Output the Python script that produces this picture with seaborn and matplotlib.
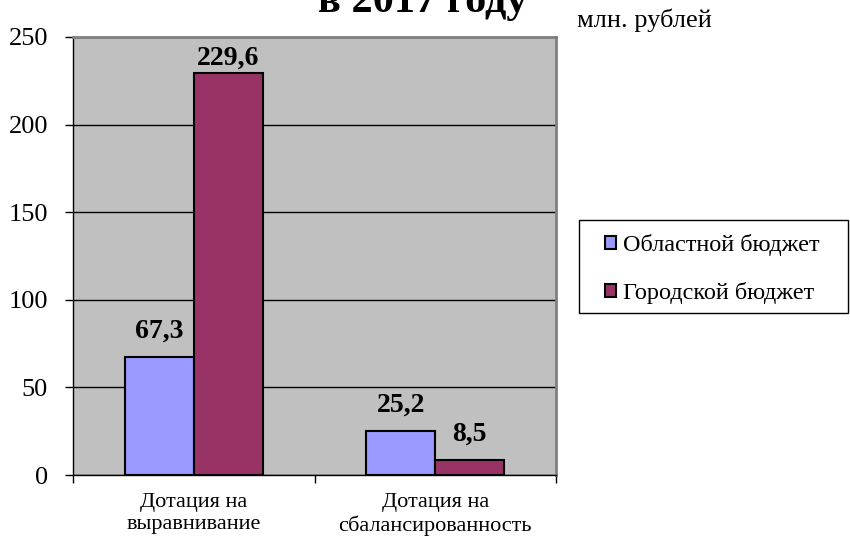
import numpy as np
import pandas as pd
import matplotlib
matplotlib.use("Agg")
import matplotlib.pyplot as plt
from matplotlib.patches import Rectangle
import seaborn as sns

categories = ["Дотация на\nвыравнивание", "Дотация на\nсбалансированность"]
series_names = ["Областной бюджет", "Городской бюджет"]
regional = [67.3, 25.2]
city = [229.6, 8.5]
colors = ["#9999FF", "#993366"]
y_ticks = [0, 50, 100, 150, 200, 250]

df = pd.DataFrame({
    "Категория": categories * 2,
    "Бюджет": [series_names[0]] * 2 + [series_names[1]] * 2,
    "Значение": regional + city,
})

sns.set_style("white")
plt.rcParams["font.family"] = ["Liberation Serif", "DejaVu Serif"]
plt.rcParams["text.color"] = "black"
plt.rcParams["xtick.color"] = "black"
plt.rcParams["ytick.color"] = "black"
plt.rcParams["axes.labelcolor"] = "black"

fig = plt.figure(figsize=(8.5, 5.43), dpi=100)
ax = fig.add_axes([73 / 850, 1 - 475 / 543, (556 - 73) / 850, (475 - 37) / 543])
ax.set_facecolor("#C0C0C0")

sns.barplot(data=df, x="Категория", y="Значение", hue="Бюджет", palette=colors,
            width=0.57, saturation=1, edgecolor="black", linewidth=1.5, ax=ax)

# value labels, kept inside the plot area like Excel does
px_per_unit = 438 / 250
for cont in ax.containers:
    for bar in cont:
        h = bar.get_height()
        room = (250 - h) * px_per_unit
        off_px = min(19, room - 28)
        ax.annotate(f"{h:.1f}".replace(".", ","),
                    (bar.get_x() + bar.get_width() / 2, h),
                    xytext=(0, off_px * 72 / 100), textcoords="offset points",
                    ha="center", va="baseline", fontsize=20, fontweight="bold")

ax.set_ylim(0, 250)
ax.set_xlim(-0.5, 1.5)
ax.set_yticks(y_ticks)
ax.yaxis.grid(True, color="black", linewidth=1)
ax.set_axisbelow(True)
ax.set_xlabel("")
ax.set_ylabel("")

ax.tick_params(axis="y", direction="out", length=6, width=1, left=True,
               labelsize=19, pad=12)
ax.tick_params(axis="x", which="major", length=0, labelsize=16, pad=13)
for lbl in ax.get_xticklabels():
    lbl.set_linespacing(1.2)
ax.set_xticks([-0.5, 0.5, 1.5], minor=True)
ax.tick_params(axis="x", which="minor", direction="out", length=6, width=1,
               bottom=True)

for side in ["top", "right"]:
    ax.spines[side].set_color("#808080")
    ax.spines[side].set_linewidth(2)
for side in ["left", "bottom"]:
    ax.spines[side].set_color("black")
    ax.spines[side].set_linewidth(1)

leg = ax.legend(loc="center left", bbox_to_anchor=(605 / 850, 1 - 269 / 543),
                bbox_transform=fig.transFigure, frameon=False, fontsize=17.5,
                handlelength=0.45, handleheight=0.45, handletextpad=0.3,
                labelspacing=1.05, borderpad=0, borderaxespad=0, title=None)
for hnd in leg.legend_handles:
    hnd.set_edgecolor("black")
    hnd.set_linewidth(1.5)
fig.patches.append(Rectangle((579 / 850, 1 - 313 / 543), 269 / 850, 93 / 543,
                             transform=fig.transFigure, fill=False,
                             edgecolor="black", linewidth=1))

fig.text(423 / 850, 1 - 12 / 543, "в 2017 году", ha="center", va="baseline",
         fontsize=30.5, fontweight="bold")
fig.text(577 / 850, 1 - 27 / 543, "млн. рублей", ha="left", va="baseline", fontsize=19)

fig.savefig("out.png", dpi=100)
